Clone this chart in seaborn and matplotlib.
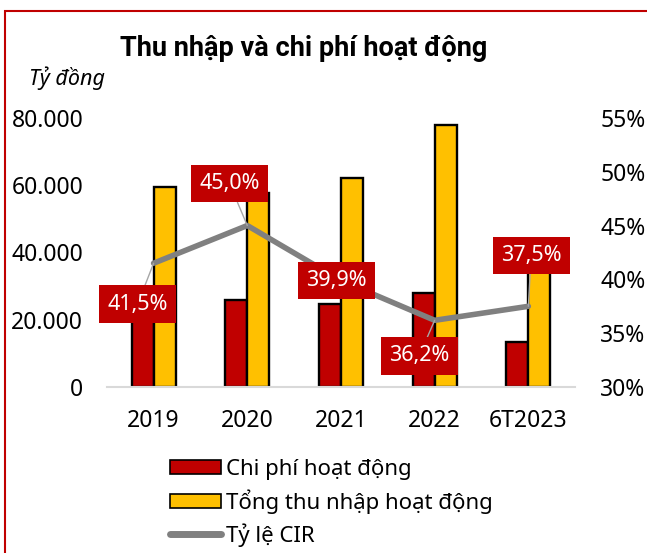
import numpy as np
import pandas as pd
import matplotlib
matplotlib.use("Agg")
import matplotlib.pyplot as plt
import matplotlib.ticker as ticker
from matplotlib.patches import Patch, Rectangle
from matplotlib.lines import Line2D
import seaborn as sns

# data
years = ["2019", "2020", "2021", "2022", "6T2023"]
chi_phi = [24.7, 25.9, 24.7, 28.0, 13.4]          # nghìn tỷ đồng
thu_nhap = [59.5, 57.6, 62.2, 77.9, 35.6]         # nghìn tỷ đồng
cir = [41.5, 45.0, 39.9, 36.2, 37.5]              # %
cir_labels = ["41,5%", "45,0%", "39,9%", "36,2%", "37,5%"]
left_ticks = [0, 20000, 40000, 60000, 80000]
right_ticks = [30, 35, 40, 45, 50, 55]

RED = "#C00000"
GOLD = "#FFC000"
GREY = "#808080"

sns.set_theme(style="white")
plt.rcParams['font.family'] = ['Noto Sans', 'DejaVu Sans']
plt.rcParams['text.color'] = 'black'
plt.rcParams['xtick.color'] = 'black'
plt.rcParams['ytick.color'] = 'black'

df = pd.DataFrame({
    "year": years * 2,
    "value": [v * 1000 for v in chi_phi] + [v * 1000 for v in thu_nhap],
    "series": ["Chi phí hoạt động"] * len(years) + ["Tổng thu nhập hoạt động"] * len(years),
})

fig = plt.figure(figsize=(6.47, 5.53), dpi=100)
ax = fig.add_axes([0.165, 0.30, 0.724, 0.487])

sns.barplot(data=df, x="year", y="value", hue="series", ax=ax,
            palette=[RED, GOLD], saturation=1, width=0.47, gap=0, edgecolor="black",
            linewidth=1.7, legend=False, zorder=2)
ax.set_ylim(0, 80000)
ax.set_yticks(left_ticks)
ax.yaxis.set_major_formatter(ticker.FuncFormatter(lambda v, p: f"{v:,.0f}".replace(",", ".")))
ax.set_xlabel("")
ax.set_ylabel("")
ax.tick_params(axis="both", length=0, labelsize=16.5)
ax.tick_params(axis="x", pad=16)
ax.tick_params(axis="y", pad=17)
for s in ["top", "right", "left"]:
    ax.spines[s].set_visible(False)
ax.spines["bottom"].set_color("#D9D9D9")
ax.spines["bottom"].set_linewidth(1.5)
ax.set_xlim(-0.5, 4.5)

# CIR line on secondary axis
ax2 = ax.twinx()
xpos = np.arange(len(years))
ax2.plot(xpos, cir, color=GREY, lw=4, solid_capstyle="round", zorder=3)
ax2.set_ylim(30, 55)
ax2.set_yticks(right_ticks)
ax2.yaxis.set_major_formatter(ticker.FuncFormatter(lambda v, p: f"{v:.0f}%"))
ax2.tick_params(axis="y", length=0, labelsize=16.5, pad=18)
for s in ax2.spines.values():
    s.set_visible(False)

# data labels (offsets in category / percentage units)
label_off = [(-0.17, -3.8), (-0.19, 3.9), (-0.05, 0.0), (-0.165, -3.3), (0.03, 4.7)]
for i, (dx, dy) in enumerate(label_off):
    ax2.annotate(cir_labels[i], xy=(xpos[i], cir[i]), xytext=(xpos[i] + dx, cir[i] + dy),
                 ha="center", va="center", fontsize=15.5, color="white", zorder=5,
                 bbox=dict(boxstyle="square,pad=0.38", fc=RED, ec="none"),
                 arrowprops=dict(arrowstyle="-", color="#A6A6A6", lw=1, shrinkA=0, shrinkB=0))

fig.text(0.47, 0.912, "Thu nhập và chi phí hoạt động", ha="center", va="center",
         fontsize=19.5, fontweight="bold", family=["Roboto", "DejaVu Sans"])
fig.text(0.045, 0.858, "Tỷ đồng", ha="left", va="center", fontsize=15.5, style="italic")

handles = [
    Patch(facecolor=RED, edgecolor="black", linewidth=1.2),
    Patch(facecolor=GOLD, edgecolor="black", linewidth=1.2),
    Line2D([0], [0], color=GREY, lw=5, solid_capstyle="round"),
]
fig.legend(handles, ["Chi phí hoạt động", "Tổng thu nhập hoạt động", "Tỷ lệ CIR"],
           loc="upper left", bbox_to_anchor=(0.262, 0.170), frameon=False, fontsize=16,
           handlelength=2.3, handleheight=0.6, handletextpad=0.25, labelspacing=0.42,
           borderaxespad=0, borderpad=0)

# red frame around the figure
fig.patches.append(Rectangle((0.008, -0.2), 1.2, 1.18, transform=fig.transFigure,
                             fill=False, edgecolor="#C00000", lw=1.5, clip_on=False))

fig.savefig("out.png", dpi=100)
